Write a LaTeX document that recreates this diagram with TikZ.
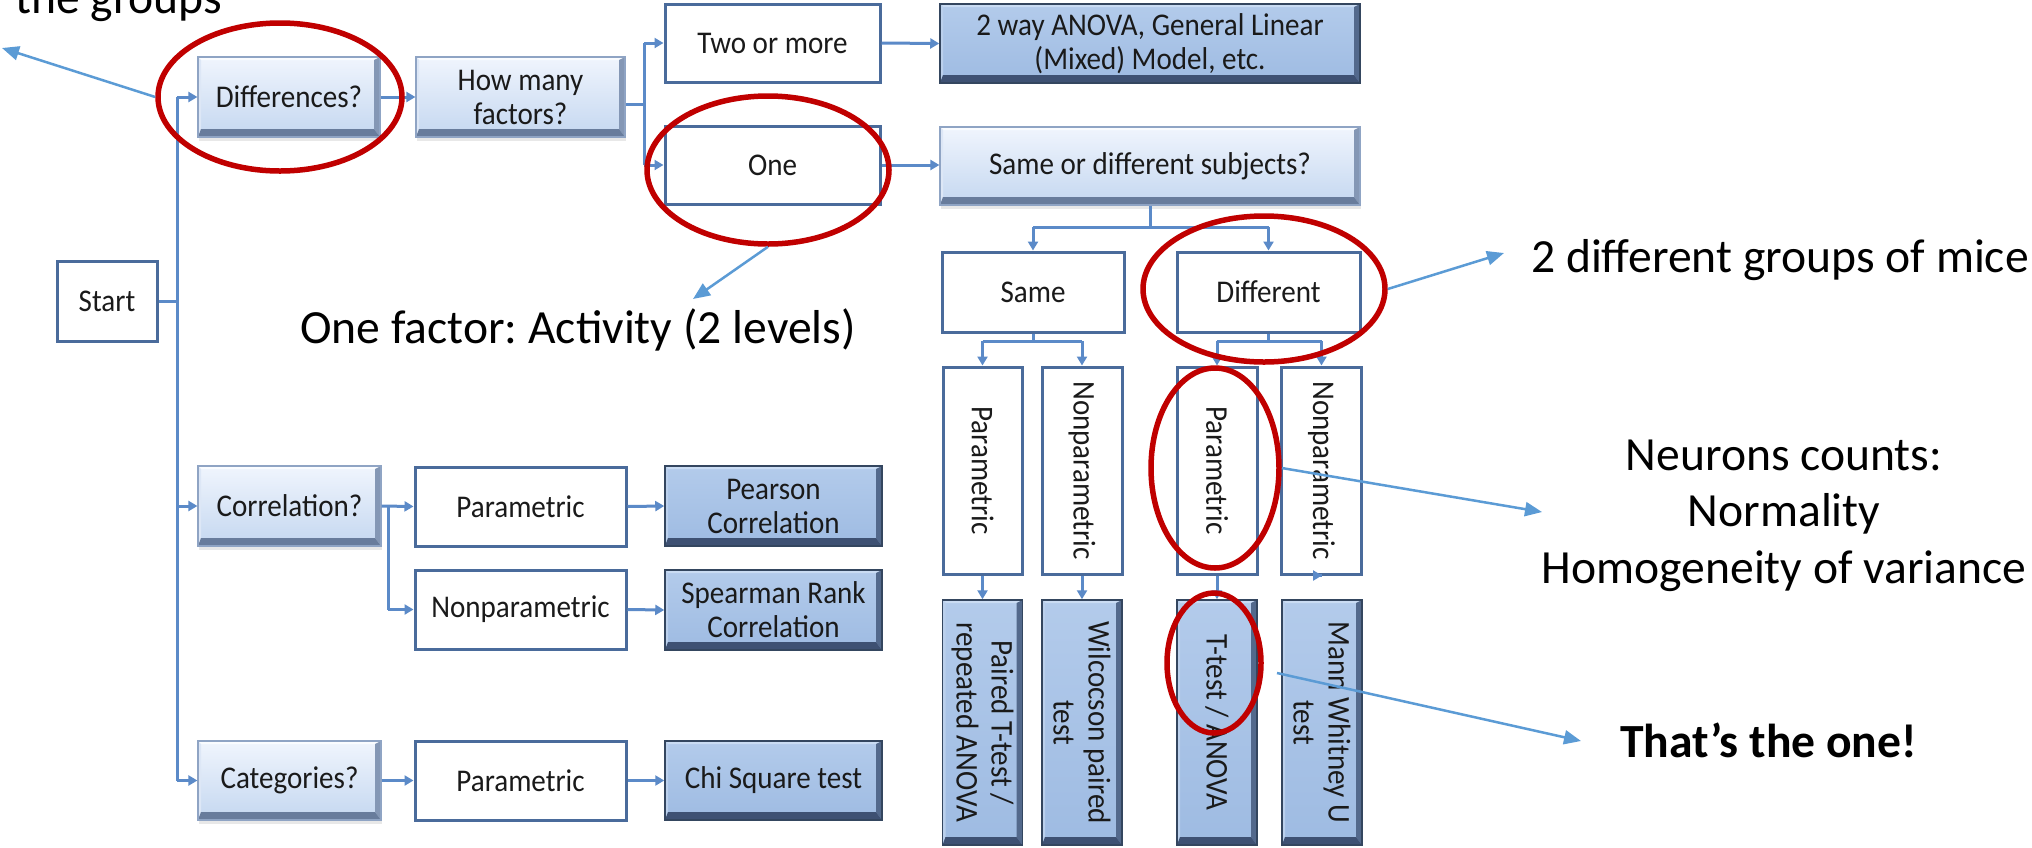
\documentclass[tikz,border=0pt]{standalone}
\usepackage{fontspec}
\setmainfont{Carlito}
\newfontfamily\boxfont[FakeStretch=0.92]{Carlito}
\frenchspacing
\usetikzlibrary{arrows.meta,shapes.geometric,shadows}

\definecolor{txt}{HTML}{1A1A1A}
\definecolor{boxline}{HTML}{4A6B9B}
\definecolor{flowc}{HTML}{5B8AC8}
\definecolor{notec}{HTML}{5B9BD5}
\definecolor{ringc}{HTML}{C00000}
% light question boxes
\definecolor{lt1}{HTML}{F0F5FD}
\definecolor{lt2}{HTML}{C4D7F0}
\definecolor{lbedge}{HTML}{8FA4C4}
\definecolor{lbT}{HTML}{FAFCFF}
\definecolor{lbL}{HTML}{DDE7F6}
\definecolor{lbR}{HTML}{8497B5}
\definecolor{lbB}{HTML}{687C9C}
% dark result boxes
\definecolor{dk1}{HTML}{B3CBEB}
\definecolor{dk2}{HTML}{9EBBE2}
\definecolor{dbedge}{HTML}{34465F}
\definecolor{dbT}{HTML}{CADCF3}
\definecolor{dbL}{HTML}{BBD0EC}
\definecolor{dbR}{HTML}{53698C}
\definecolor{dbB}{HTML}{3E5173}

% bevelled edges drawn inside a box: top, left, right, bottom colours
\newcommand\boxbevel[4]{%
  \coordinate (bNW) at (path picture bounding box.north west);
  \coordinate (bNE) at (path picture bounding box.north east);
  \coordinate (bSW) at (path picture bounding box.south west);
  \coordinate (bSE) at (path picture bounding box.south east);
  \fill[#1] (bNW) -- (bNE) -- ([xshift=-6pt,yshift=-3pt]bNE) -- ([xshift=3pt,yshift=-3pt]bNW) -- cycle;
  \fill[#2] (bNW) -- ([xshift=3pt,yshift=-3pt]bNW) -- ([xshift=3pt,yshift=8pt]bSW) -- (bSW) -- cycle;
  \fill[#3] (bNE) -- (bSE) -- ([xshift=-6pt,yshift=8pt]bSE) -- ([xshift=-6pt,yshift=-3pt]bNE) -- cycle;
  \fill[#4] (bSW) -- (bSE) -- ([xshift=-6pt,yshift=8pt]bSE) -- ([xshift=3pt,yshift=8pt]bSW) -- cycle;
}

\tikzset{
  btxt/.style={font=\boxfont\fontsize{31.6}{34}\selectfont, text=txt, align=center, inner sep=0pt},
  vtext/.style={rotate=-90, font=\boxfont\fontsize{31.6}{35}\selectfont, text=txt, align=center, inner sep=0pt},
  wbox/.style={btxt, draw=boxline, line width=3pt, fill=white},
  lbox/.style={btxt, draw=lbedge, line width=1.2pt, top color=lt1, bottom color=lt2,
    drop shadow={shadow xshift=1pt, shadow yshift=-4pt, opacity=0.18},
    path picture={\boxbevel{lbT}{lbL}{lbR}{lbB}}},
  dbox/.style={btxt, draw=dbedge, line width=1.5pt, top color=dk1, bottom color=dk2,
    path picture={\boxbevel{dbT}{dbL}{dbR}{dbB}}},
  flow/.style={draw=flowc, line width=3pt},
  arr/.style={flow, -{Triangle[length=9pt,width=10pt]}},
  note/.style={draw=notec, line width=2.5pt, -{Triangle[length=17pt,width=14pt]}},
  ring/.style={draw=ringc, line width=5.5pt, ellipse, inner sep=0pt},
  anno/.style={font=\fontsize{47.6}{56.5}\selectfont, text=black, inner sep=0pt},
}

\begin{document}
\begin{tikzpicture}[x=1pt,y=-1pt]
\useasboundingbox (0,0) rectangle (2032,847);
\clip (0,0) rectangle (2032,847);
\fill[white] (0,0) rectangle (2032,847);

% ---------- left part of the flow chart ----------
\node[wbox, minimum width=100, minimum height=80] (start) at (107,301) {Start};
\node[lbox, minimum width=182, minimum height=80] (diff) at (289,97) {Differences?};
\node[lbox, minimum width=183, minimum height=80] (corr) at (289.5,506) {Correlation?};
\node[lbox, minimum width=183, minimum height=79] (cat) at (289.5,780.5) {Categories?};

\node[lbox, minimum width=209, minimum height=80] (many) at (520.5,97) {How many\\factors?};
\node[wbox, minimum width=215, minimum height=78] (two) at (772.5,43) {Two or more};
\node[wbox, minimum width=215, minimum height=78] (one) at (772.5,165) {One};

\node[wbox, minimum width=211, minimum height=79] (cpar) at (520.5,506.5) {Parametric};
\node[wbox, minimum width=211, minimum height=79] (cnp) at (520.5,609.5) {Nonparametric};
\node[wbox, minimum width=211, minimum height=79] (catp) at (520.5,780.5) {Parametric};

\node[dbox, minimum width=217, minimum height=80] (pear) at (773.5,506) {Pearson\\Correlation};
\node[dbox, minimum width=217, minimum height=80] (spear) at (773.5,610) {Spearman Rank\\Correlation};
\node[dbox, minimum width=217, minimum height=79] (chi) at (773.5,780.5) {Chi Square test};

% ---------- right part ----------
\node[dbox, minimum width=420, minimum height=79] (glm) at (1150,43.5) {2 way ANOVA, General Linear\\(Mixed) Model, etc.};
\node[lbox, minimum width=420, minimum height=78] (subj) at (1150,166) {Same or different subjects?};
\node[wbox, minimum width=182, minimum height=80] (same) at (1033,292) {Same};
\node[wbox, minimum width=183, minimum height=80] (dif) at (1268.5,292) {Different};

\node[wbox, minimum width=79, minimum height=207, label={[vtext]center:Parametric}] (sp) at (982.5,470.5) {};
\node[wbox, minimum width=80, minimum height=207, label={[vtext]center:Nonparametric}] (sn) at (1082,470.5) {};
\node[wbox, minimum width=80, minimum height=207, label={[vtext]center:Parametric}] (dp) at (1217,470.5) {};
\node[wbox, minimum width=80, minimum height=207, label={[vtext]center:Nonparametric}] (dn) at (1321.5,470.5) {};

\node[dbox, minimum width=80, minimum height=245, label={[vtext]center:{Paired T-test /\\repeated ANOVA}}] (rsp) at (982.5,722.5) {};
\node[dbox, minimum width=80, minimum height=245, label={[vtext]center:{Wilcocson paired\\test}}] (rsn) at (1082,722.5) {};
\node[dbox, minimum width=80, minimum height=245, label={[vtext]center:{T-test / ANOVA}}] (rdp) at (1217,722.5) {};
\node[dbox, minimum width=80, minimum height=245, label={[vtext]center:{Mann Whitney U\\test}}] (rdn) at (1322,722.5) {};

% ---------- connectors ----------
\coordinate (tk) at (177,0);
\draw[flow] (start.east) -- (start.east -| tk);
\draw[flow] (diff.west -| tk) -- (cat.west -| tk);
\draw[arr] (diff.west -| tk) -- (diff.west);
\draw[arr] (corr.west -| tk) -- (corr.west);
\draw[arr] (cat.west -| tk) -- (cat.west);

\draw[arr] (diff.east) -- (many.west);
\coordinate (fk) at (644,104);
\draw[flow] (many.east |- fk) -- (fk);
\draw[flow] (two.west -| fk) -- (one.west -| fk);
\draw[arr] (two.west -| fk) -- (two.west);
\draw[arr] (one.west -| fk) -- (one.west);
\draw[arr] (two.east) -- (glm.west);
\draw[arr] (one.east) -- (one.east -| subj.west);

\coordinate (sk) at (0,227);
\draw[flow] (subj.south) -- (subj.south |- sk);
\draw[flow] (same.north |- sk) -- (dif.north |- sk);
\draw[arr] (same.north |- sk) -- (same.north);
\draw[arr] (dif.north |- sk) -- (dif.north);

\coordinate (ck) at (0,341);
\draw[flow] (same.south) -- (same.south |- ck);
\draw[flow] (sp.north |- ck) -- (sn.north |- ck);
\draw[arr] (sp.north |- ck) -- (sp.north);
\draw[arr] (sn.north |- ck) -- (sn.north);
\draw[flow] (dif.south) -- (dif.south |- ck);
\draw[flow] (dp.north |- ck) -- (dn.north |- ck);
\draw[arr] (dp.north |- ck) -- (dp.north);
\draw[arr] (dn.north |- ck) -- (dn.north);

\draw[arr] (sp.south) -- (rsp.north);
\draw[arr] (sn.south) -- (rsn.north);
\draw[arr] (dp.south) -- (rdp.north);
\draw[arr] (dn.south) -- (dn.south -| rdn.north);

\coordinate (cb) at (388,0);
\draw[arr] (corr.east) -- (cpar.west);
\draw[flow] (corr.east -| cb) -- (cnp.west -| cb);
\draw[arr] (cnp.west -| cb) -- (cnp.west);
\draw[arr] (cpar.east) -- (pear.west);
\draw[arr] (cnp.east) -- (spear.west);
\draw[arr] (cat.east) -- (catp.west);
\draw[arr] (catp.east) -- (chi.west);

% ---------- highlights ----------
\node[ring, minimum width=244, minimum height=148] (e1) at (280,97) {};
\node[ring, minimum width=242, minimum height=148] (e2) at (768,170) {};
\node[ring, minimum width=242, minimum height=146] (e3) at (1264,289) {};
\node[ring, minimum width=128, minimum height=200] (e4) at (1215,468) {};
\node[ring, minimum width=94, minimum height=140] (e5) at (1214,663) {};

% ---------- notes ----------
\node[anno, anchor=base west] (groups) at (15,13) {the groups};
\node[anno, anchor=base west] (onef) at (300,343) {One factor: Activity (2 levels)};
\node[anno, anchor=base west] (mice) at (1531,272) {2 different groups of mice};
\node[anno, anchor=base] (neur) at (1784,470) {\begin{tabular}[t]{@{}c@{}}Neurons counts:\\Normality\\Homogeneity of variance\end{tabular}};
\node[anno, anchor=base west, font=\fontsize{47.6}{56.5}\selectfont\bfseries] (thatone) at (1620,757) {That’s the one!};

\coordinate (t1) at (2,48);
\coordinate (t2) at (693,299);
\coordinate (t3) at (1504,253);
\coordinate (t4) at (1542,512);
\coordinate (s5) at (1277,673);
\coordinate (t5) at (1581,741);
\draw[note] (e1.west) -- (t1);
\draw[note] (e2.south) -- (t2);
\draw[note] (e3.east) -- (t3);
\draw[note] (e4.east) -- (t4);
\draw[note] (s5) -- (t5);
\end{tikzpicture}
\end{document}
